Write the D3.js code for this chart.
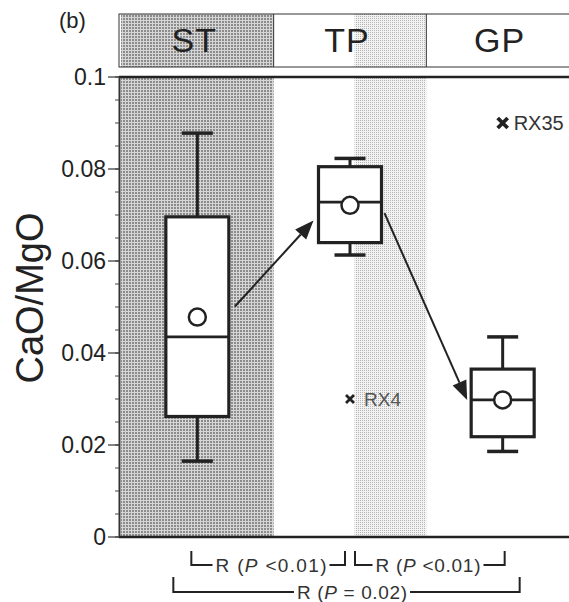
<!DOCTYPE html>
<html>
<head>
<meta charset="utf-8">
<script src="https://cdn.jsdelivr.net/npm/d3@7/dist/d3.min.js"></script>
<style>
  html, body { margin: 0; padding: 0; background: #fff; }
  svg { display: block; font-family: "Liberation Sans", Arial, Helvetica, sans-serif; }
</style>
</head>
<body>
<svg id="chart" width="569" height="602"></svg>
<script>
// Groups along the x axis
const categories = ["ST", "TP", "GP"];

// Box-plot statistics of CaO/MgO for each group
const whiskerHigh = [0.0878, 0.0823, 0.0435];
const upperQuartile = [0.0696, 0.0805, 0.0365];
const medians = [0.0435, 0.0728, 0.0298];
const lowerQuartile = [0.0262, 0.0640, 0.0218];
const whiskerLow = [0.0165, 0.0613, 0.0186];
const means = [0.0478, 0.0721, 0.0298];

// Outlying samples
const outlierGroups = ["GP", "TP"];
const outlierValues = [0.090, 0.030];
const outlierNames = ["RX35", "RX4"];

// Trend arrows between groups (from group/value to group/value)
const arrowFromGroup = ["ST", "TP"];
const arrowFromValue = [0.0501, 0.0704];
const arrowToGroup = ["TP", "GP"];
const arrowToValue = [0.0688, 0.0298];

// Y axis ticks
const majorTicks = [0, 0.02, 0.04, 0.06, 0.08, 0.1];
const majorTickLabels = ["0", "0.02", "0.04", "0.06", "0.08", "0.1"];
const minorTicks = d3.range(0, 0.1001, 0.005);

// Significance brackets under the axis
const bracketFrom = ["ST", "TP", "ST"];
const bracketTo = ["TP", "GP", "GP"];
const bracketP = [" <0.01)", " <0.01)", " = 0.02)"];

const svg = d3.select("#chart");
const W = 569;

const x = d3.scaleBand().domain(categories).range([121, 579]).padding(0);
const y = d3.scaleLinear().domain([0, 0.1]).range([537, 77]);
const bw = x.bandwidth();
const cx = c => x(c) + bw / 2;

// Halftone fills
const defs = svg.append("defs");
const dark = defs.append("pattern").attr("id", "dark").attr("patternUnits", "userSpaceOnUse")
  .attr("width", 3).attr("height", 3);
dark.append("rect").attr("width", 3).attr("height", 3).attr("fill", "#d6d6d6");
dark.append("rect").attr("width", 2).attr("height", 2).attr("fill", "#8c8c8c");
const light = defs.append("pattern").attr("id", "light").attr("patternUnits", "userSpaceOnUse")
  .attr("width", 2).attr("height", 2);
light.append("rect").attr("width", 2).attr("height", 2).attr("fill", "#f3f3f3");
light.append("rect").attr("width", 1).attr("height", 1).attr("fill", "#b4b4b4");

// Header strip with group names
const headTop = 14, headBottom = 67;
svg.append("rect").attr("x", x("ST")).attr("y", headTop).attr("width", bw)
  .attr("height", headBottom - headTop).attr("fill", "url(#dark)");
svg.append("rect").attr("x", x("TP") + bw * 0.53).attr("y", headTop).attr("width", bw * 0.47)
  .attr("height", headBottom - headTop).attr("fill", "url(#light)");
svg.append("rect").attr("x", 119).attr("y", headTop).attr("width", W + 5 - 119)
  .attr("height", headBottom - headTop).attr("fill", "none").attr("stroke", "#333").attr("stroke-width", 1);
["TP", "GP"].forEach(c => {
  svg.append("line").attr("x1", x(c)).attr("x2", x(c)).attr("y1", headTop).attr("y2", headBottom)
    .attr("stroke", "#333").attr("stroke-width", 1);
});
svg.selectAll("text.head").data(categories).join("text").attr("class", "head")
  .attr("x", d => cx(d) - 3).attr("y", 52).attr("text-anchor", "middle")
  .attr("font-size", 34).attr("letter-spacing", 1).attr("fill", "#222").text(d => d);

svg.append("text").attr("x", 59).attr("y", 28).attr("font-size", 22).attr("fill", "#222").text("(b)");

// Plot area shading
svg.append("rect").attr("x", x("ST")).attr("y", y(0.1)).attr("width", bw)
  .attr("height", y(0) - y(0.1)).attr("fill", "url(#dark)");
svg.append("rect").attr("x", x("TP") + bw * 0.53).attr("y", y(0.1)).attr("width", bw * 0.47)
  .attr("height", y(0) - y(0.1)).attr("fill", "url(#light)");

// Frame lines
svg.append("line").attr("x1", 119).attr("x2", W).attr("y1", y(0.1)).attr("y2", y(0.1))
  .attr("stroke", "#222").attr("stroke-width", 2.5);
svg.append("line").attr("x1", 119).attr("x2", W).attr("y1", y(0)).attr("y2", y(0))
  .attr("stroke", "#222").attr("stroke-width", 2.5);

// Y axis
const yAxis = svg.append("g");
yAxis.append("line").attr("x1", 119.5).attr("x2", 119.5).attr("y1", y(0.1)).attr("y2", y(0))
  .attr("stroke", "#333").attr("stroke-width", 2);
yAxis.selectAll("line.minor").data(minorTicks).join("line").attr("class", "minor")
  .attr("x1", 115).attr("x2", 119).attr("y1", d => y(d)).attr("y2", d => y(d))
  .attr("stroke", "#444").attr("stroke-width", 1);
yAxis.selectAll("line.major").data(majorTicks).join("line").attr("class", "major")
  .attr("x1", 108).attr("x2", 119).attr("y1", d => y(d)).attr("y2", d => y(d))
  .attr("stroke", "#333").attr("stroke-width", 1.2);
yAxis.selectAll("text").data(majorTicks).join("text")
  .attr("x", 106).attr("y", d => y(d)).attr("dy", "0.36em").attr("text-anchor", "end")
  .attr("font-size", 23).attr("fill", "#222").text((d, i) => majorTickLabels[i]);

svg.append("text").attr("transform", "translate(43,298) rotate(-90)")
  .attr("text-anchor", "middle").attr("font-size", 38).attr("fill", "#222").text("CaO/MgO");

// Box plots
const boxW = 63, capW = 31;
const boxes = svg.append("g");
categories.forEach((c, i) => {
  const g = boxes.append("g");
  const m = cx(c);
  g.append("line").attr("x1", m).attr("x2", m).attr("y1", y(whiskerHigh[i])).attr("y2", y(whiskerLow[i]))
    .attr("stroke", "#222").attr("stroke-width", 3);
  [whiskerHigh[i], whiskerLow[i]].forEach(v => {
    g.append("line").attr("x1", m - capW / 2).attr("x2", m + capW / 2).attr("y1", y(v)).attr("y2", y(v))
      .attr("stroke", "#222").attr("stroke-width", 3.5);
  });
  g.append("rect").attr("x", m - boxW / 2).attr("y", y(upperQuartile[i]))
    .attr("width", boxW).attr("height", y(lowerQuartile[i]) - y(upperQuartile[i]))
    .attr("fill", "#fff").attr("stroke", "#222").attr("stroke-width", 3.2);
  g.append("line").attr("x1", m - boxW / 2).attr("x2", m + boxW / 2)
    .attr("y1", y(medians[i])).attr("y2", y(medians[i])).attr("stroke", "#222").attr("stroke-width", 2.6);
  g.append("circle").attr("cx", m).attr("cy", y(means[i])).attr("r", 8.5)
    .attr("fill", "#fff").attr("stroke", "#222").attr("stroke-width", 2.5);
});

// Arrows between group means
const arrows = svg.append("g");
arrowFromGroup.forEach((from, i) => {
  const to = arrowToGroup[i];
  const x1 = cx(from) + boxW / 2 + (i === 0 ? 6 : 3);
  const x2 = cx(to) - boxW / 2 - (i === 0 ? 5 : 4);
  const y1 = y(arrowFromValue[i]), y2 = y(arrowToValue[i]);
  const ang = Math.atan2(y2 - y1, x2 - x1);
  const L = 19, H = 7.5;
  const bx = x2 - L * Math.cos(ang), by = y2 - L * Math.sin(ang);
  arrows.append("line").attr("x1", x1).attr("y1", y1).attr("x2", bx).attr("y2", by)
    .attr("stroke", "#222").attr("stroke-width", 2);
  const pts = [
    [x2, y2],
    [bx + H * Math.sin(ang), by - H * Math.cos(ang)],
    [bx - H * Math.sin(ang), by + H * Math.cos(ang)]
  ];
  arrows.append("polygon").attr("points", pts.map(p => p.join(",")).join(" ")).attr("fill", "#222");
});

// Outliers
const out = svg.append("g");
outlierGroups.forEach((c, i) => {
  const px = cx(c), py = y(outlierValues[i]);
  const big = i === 0;
  const s = big ? 5 : 4, sw = big ? 3.8 : 2.8;
  out.append("path").attr("d", `M${px - s},${py - s}L${px + s},${py + s}M${px - s},${py + s}L${px + s},${py - s}`)
    .attr("stroke", "#222").attr("stroke-width", sw);
  out.append("text").attr("x", px + (big ? 11 : 14)).attr("y", py).attr("dy", "0.36em")
    .attr("font-size", big ? 20 : 19).attr("fill", big ? "#333" : "#555").text(outlierNames[i]);
});

// Significance brackets
const brk = svg.append("g").attr("stroke", "#222").attr("stroke-width", 2).attr("fill", "none");
const brkText = svg.append("g").attr("font-size", 19).attr("fill", "#333");
const bracketSpec = [
  { x1: cx(bracketFrom[0]) - 6, x2: cx(bracketTo[0]) - 5, top: 551, bot: 565, len: 111 },
  { x1: cx(bracketFrom[1]) + 5, x2: cx(bracketTo[1]) + 2, top: 551, bot: 565, len: 105 },
  { x1: cx(bracketFrom[2]) - 24, x2: cx(bracketTo[2]) + 17, top: 577, bot: 592, len: 110 }
];
const textMid = [271, 428, 352];
bracketSpec.forEach((b, i) => {
  const t = brkText.append("text").attr("x", textMid[i]).attr("y", b.bot).attr("dy", "0.36em")
    .attr("text-anchor", "middle").attr("textLength", b.len).attr("lengthAdjust", "spacing");
  t.append("tspan").text("R (");
  t.append("tspan").attr("font-style", "italic").text("P");
  t.append("tspan").text(bracketP[i]);
  const l = textMid[i] - b.len / 2, r = textMid[i] + b.len / 2;
  brk.append("path").attr("d",
    `M${b.x1},${b.top}V${b.bot}H${l - 3}M${r + 3},${b.bot}H${b.x2}V${b.top}`);
});
</script>
</body>
</html>
